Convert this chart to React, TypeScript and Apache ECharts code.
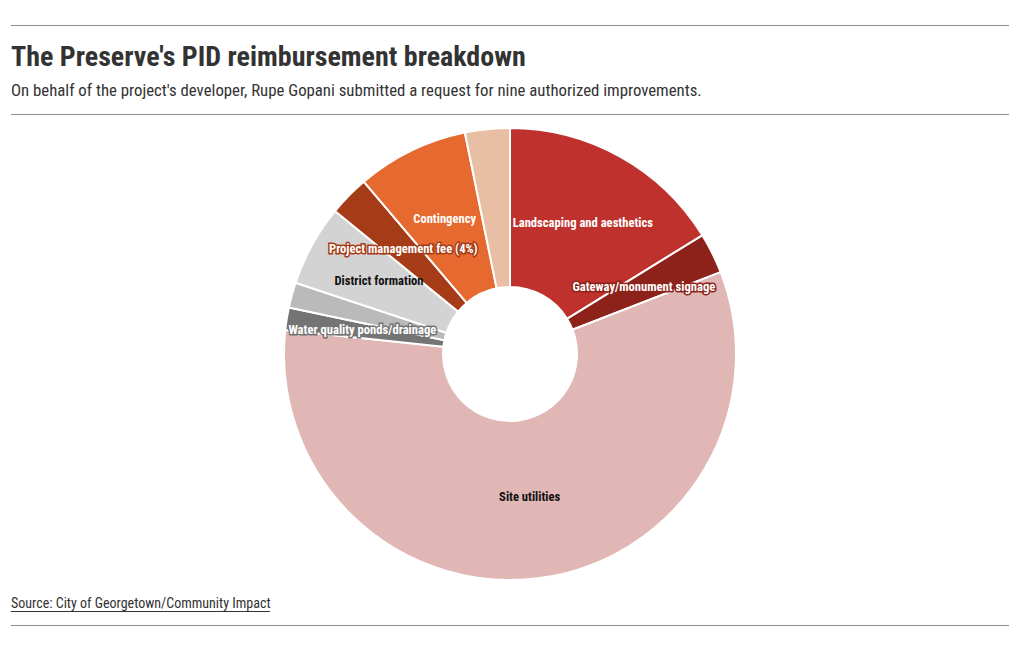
import React, { useEffect, useRef } from "react";
import * as echarts from "echarts";

const titleText = "The Preserve's PID reimbursement breakdown";
const subtitleText = "On behalf of the project's developer, Rupe Gopani submitted a request for nine authorized improvements.";
const sourceText = "Source: City of Georgetown/Community Impact";

const categories = [
  "Landscaping and aesthetics",
  "Gateway/monument signage",
  "Site utilities",
  "Water quality ponds/drainage",
  "Erosion control",
  "District formation",
  "Project management fee (4%)",
  "Contingency",
  "Engineering",
];
const values = [16.2, 2.9, 57.6, 1.6, 1.8, 5.8, 2.9, 8.0, 3.2];
const colors = ["#bf312c", "#8c2219", "#e0b7b4", "#747474", "#bababa", "#d3d3d3", "#a63b17", "#e66a2f", "#e8bfa4"];
const labelShown = [true, true, true, true, false, true, true, true, false];
const labelDark = [false, false, true, false, false, true, false, false, false];

const FONT = "'Roboto Condensed', 'Liberation Sans Narrow', 'DejaVu Sans Condensed', Roboto, sans-serif";

export default function App() {
  const ref = useRef<HTMLDivElement>(null);
  useEffect(() => {
    document.body.style.margin = "0";
    const chart = echarts.init(ref.current!, null, { renderer: "svg" });
    const data = categories.map((name, i) => ({
      name,
      value: values[i],
      itemStyle: { color: colors[i] },
      label: {
        show: labelShown[i],
        color: labelDark[i] ? "#111" : "#fff",
        textBorderColor: labelDark[i] ? "rgba(255,255,255,0)" : colors[i],
        textBorderWidth: labelDark[i] ? 0 : 3,
        offset: i === 2 ? [0, -6] : [0, -1],
      },
    }));
    chart.setOption({
      animation: false,
      graphic: [
        { type: "line", shape: { x1: 11, y1: 25.5, x2: 1009, y2: 25.5 }, style: { stroke: "#8c8c8c", lineWidth: 1 } },
        { type: "text", x: 11, y: 56, style: { text: titleText, font: `bold 28px ${FONT}`, fill: "#333", verticalAlign: "middle" } },
        { type: "text", x: 11, y: 90, style: { text: subtitleText, font: `16.8px ${FONT}`, fill: "#333", verticalAlign: "middle" } },
        { type: "line", shape: { x1: 11, y1: 114.5, x2: 1009, y2: 114.5 }, style: { stroke: "#8c8c8c", lineWidth: 1 } },
        { type: "text", x: 11, y: 603, style: { text: sourceText, font: `14px ${FONT}`, fill: "#333", verticalAlign: "middle" } },
        { type: "line", shape: { x1: 11, y1: 611.5, x2: 270, y2: 611.5 }, style: { stroke: "#333", lineWidth: 1 } },
        { type: "line", shape: { x1: 11, y1: 625.5, x2: 1009, y2: 625.5 }, style: { stroke: "#8c8c8c", lineWidth: 1 } },
      ],
      series: [
        {
          type: "pie",
          center: [510, 354],
          radius: [67, 226],
          startAngle: 90,
          clockwise: true,
          avoidLabelOverlap: false,
          label: {
            position: "inside",
            formatter: "{b}",
            fontFamily: FONT,
            fontWeight: "bold",
            fontSize: 12.6,
          },
          labelLine: { show: false },
          itemStyle: { borderColor: "#fff", borderWidth: 2 },
          emphasis: { disabled: true },
          data,
        },
      ],
    });
    return () => chart.dispose();
  }, []);
  return <div ref={ref} style={{ width: 1020, height: 650 }} />;
}
